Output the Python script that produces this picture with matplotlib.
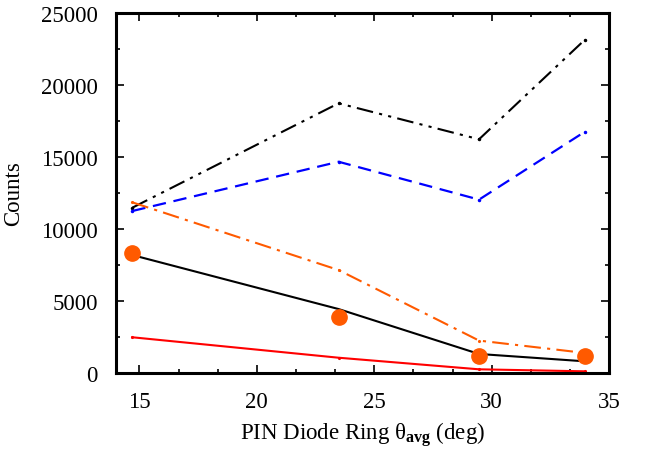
import numpy as np
import matplotlib
matplotlib.use('Agg')
import matplotlib.pyplot as plt
from matplotlib.ticker import AutoMinorLocator, MultipleLocator

plt.rcParams['font.family'] = ['Liberation Serif', 'DejaVu Serif']
plt.rcParams['mathtext.fontset'] = 'custom'
plt.rcParams['mathtext.rm'] = 'Liberation Serif'
plt.rcParams['mathtext.it'] = 'Liberation Serif'
plt.rcParams['mathtext.bf'] = 'Liberation Serif:bold'

# angles of the four PIN diode rings
theta = [14.7, 23.48, 29.46, 33.97]

# counts per curve
dashdot_black = [11480, 18730, 16230, 23150]
dashed_blue = [11250, 14670, 12040, 16760]
dashdot_orange = [11850, 7150, 2250, 1390]
solid_black = [8190, 4440, 1320, 810]
solid_red = [2480, 1060, 255, 115]
data_points = [8330, 3910, 1180, 1180]

orange = '#ff5a00'

fig = plt.figure(figsize=(6.55, 4.52), dpi=100)
ax = fig.add_axes([0.177, 0.1726, 0.753, 0.7964])

ax.plot(theta, dashdot_black, color='black', lw=1.5, dashes=[8, 3, 1.5, 3, 1.5, 3],
        marker='.', ms=3)
ax.plot(theta, dashed_blue, color='#0000ff', lw=1.6, dashes=[6, 3.5], marker='.', ms=3)
ax.plot(theta, dashdot_orange, color=orange, lw=1.5, dashes=[8, 3, 1.5, 3], marker='.', ms=2.5)
ax.plot(theta, solid_black, color='black', lw=1.5)
ax.plot(theta, solid_red, color='#ff0000', lw=1.5, marker='.', ms=2.5)
ax.plot(theta, data_points, 'o', color=orange, ms=11, zorder=5)

ax.set_xlim(14, 35)
ax.set_ylim(0, 25000)
ax.xaxis.set_major_locator(MultipleLocator(5))
ax.xaxis.set_minor_locator(AutoMinorLocator(3))
ax.yaxis.set_major_locator(MultipleLocator(5000))
ax.yaxis.set_minor_locator(AutoMinorLocator(2))
ax.tick_params(which='both', direction='in', top=True, right=True, labelsize=16.5, width=1.2)
ax.tick_params(axis='y', which='major', length=6, pad=13)
ax.tick_params(axis='x', which='major', length=6, pad=13)
ax.tick_params(which='minor', length=3)
for s in ax.spines.values():
    s.set_linewidth(2.2)

ax.set_xlabel(r'PIN Diode Ring $\mathregular{\theta_{\mathbf{avg}}}$ (deg)', fontsize=16.5, labelpad=5)
ax.set_ylabel('Counts', fontsize=16.5, labelpad=12)

fig.savefig('out.png', dpi=100)
